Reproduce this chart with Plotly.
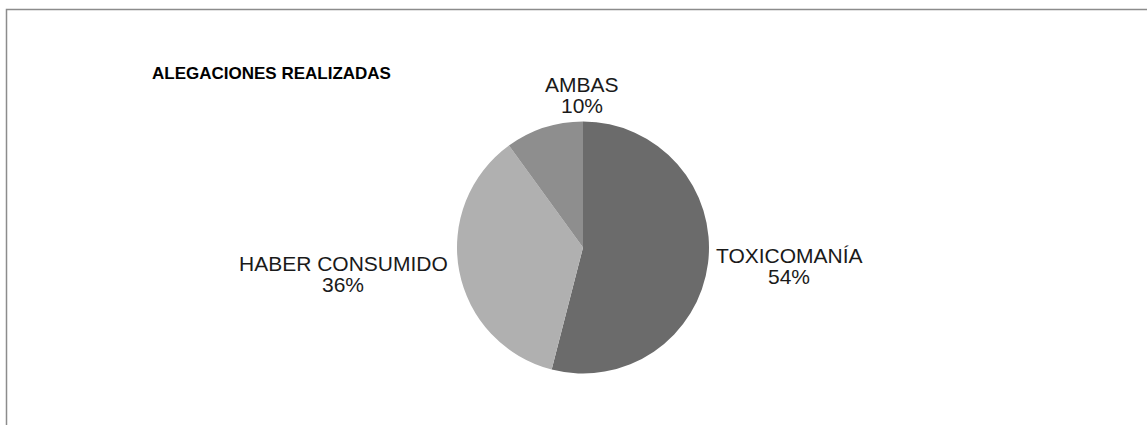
import plotly.graph_objects as go

# data
labels = ["TOXICOMANÍA", "HABER CONSUMIDO", "AMBAS"]
values = [54, 36, 10]
colors = ["#6b6b6b", "#b0b0b0", "#8e8e8e"]
title = "ALEGACIONES REALIZADAS"

# where each label block sits (px, centre x / first line y), same order as labels
label_x = [789, 343, 582]
label_y = [255, 263, 84]

W, H = 1147, 425
cx, cy, r = 583, 247.5, 126
font = "Liberation Sans, Arial"

fig = go.Figure(go.Pie(
    labels=labels,
    values=values,
    sort=False,
    direction="clockwise",
    rotation=0,
    marker={"colors": colors, "line": {"width": 0}},
    textinfo="none",
    showlegend=False,
    hoverinfo="label+percent",
    domain={"x": [(cx - r) / W, (cx + r) / W], "y": [1 - (cy + r) / H, 1 - (cy - r) / H]},
))

total = sum(values)
annotations = [{
    "text": "<b>" + title + "</b>",
    "x": 150 / W, "y": 1 - 73 / H,
    "xref": "paper", "yref": "paper",
    "xanchor": "left", "yanchor": "middle",
    "showarrow": False,
    "font": {"family": font, "size": 17, "color": "black"},
}]
# Excel-style data labels: name on one line, percent below, tight spacing
for lab, val, x, y in zip(labels, values, label_x, label_y):
    pct = "%d%%" % round(val * 100 / total)
    for i, txt in enumerate([lab, pct]):
        annotations.append({
            "text": txt,
            "x": x / W, "y": 1 - (y + i * 21) / H,
            "xref": "paper", "yref": "paper",
            "xanchor": "center", "yanchor": "middle",
            "showarrow": False,
            "font": {"family": font, "size": 21, "color": "#1a1a1a"},
        })

fig.update_layout(
    width=W,
    height=H,
    margin={"l": 0, "t": 0, "b": 0, "r": 0},
    paper_bgcolor="white",
    font={"family": font},
    annotations=annotations,
    shapes=[{
        "type": "rect", "xref": "paper", "yref": "paper",
        "x0": 6.5 / W, "x1": 1.05, "y0": -0.05, "y1": 1 - 9.5 / H,
        "line": {"color": "#8c8c8c", "width": 1.5},
    }],
)

# page body has a default 8px margin; remove it so the chart sits at 0,0
fig.write_html("out.html", config={"displayModeBar": False},
               post_script="document.body.style.margin='0';")
